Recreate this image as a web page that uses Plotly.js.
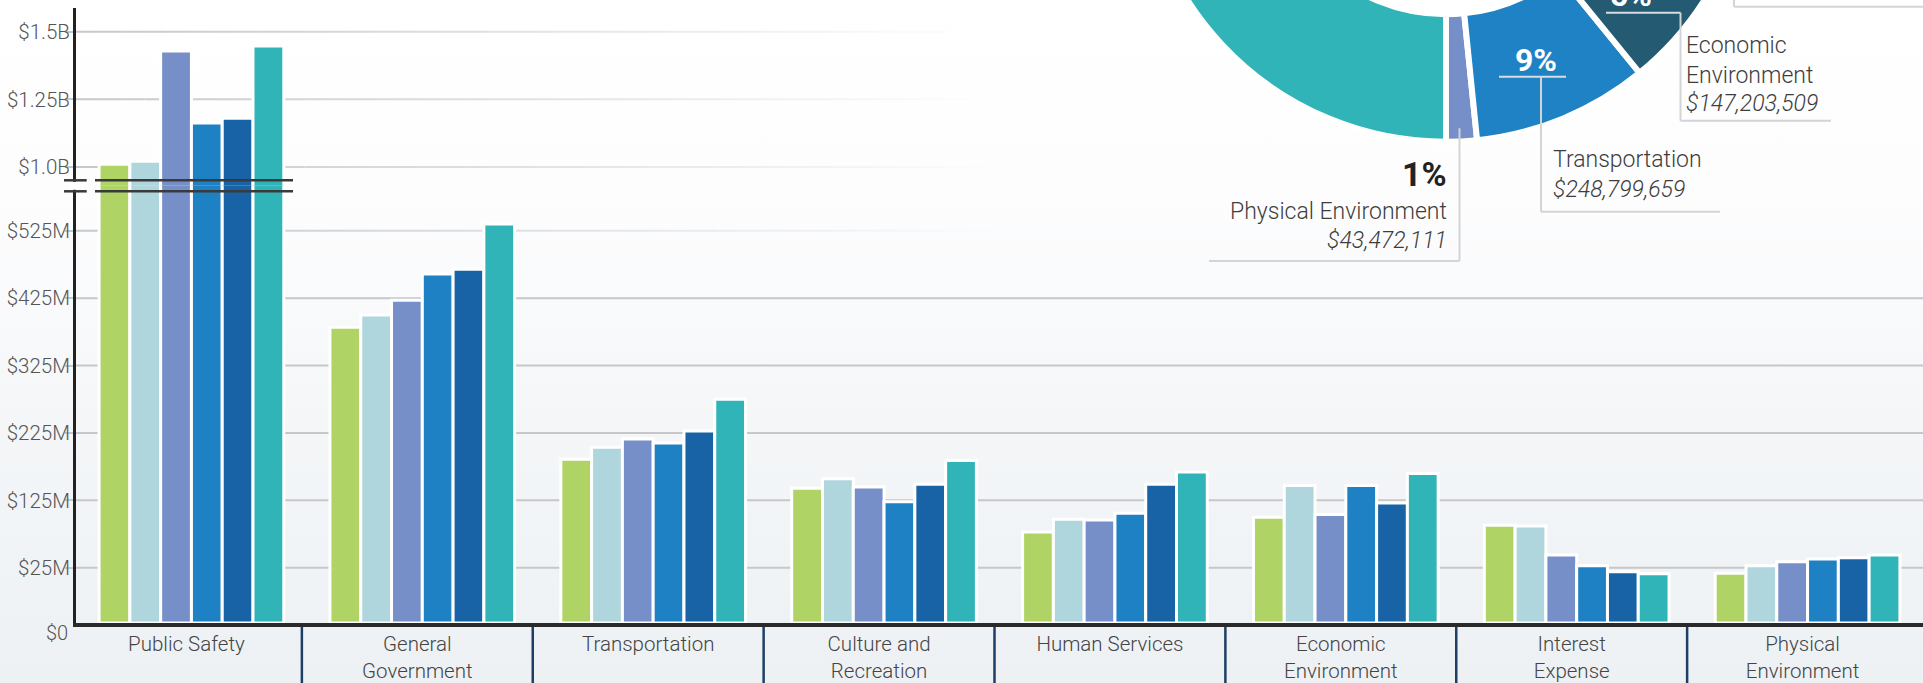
<!DOCTYPE html>
<html>
<head>
<meta charset="utf-8">
<script src="https://cdn.plot.ly/plotly-3.0.1.min.js"></script>
<style>
html,body{margin:0;padding:0;width:1923px;height:683px;overflow:hidden;}
body{background:linear-gradient(to bottom,#ffffff 0px,#fdfdfe 200px,#f4f6f8 430px,#edf1f4 683px);}
#chart{position:absolute;left:0;top:-600px;width:1923px;height:1283px;}
</style>
</head>
<body>
<div id="chart"></div>
<script>
// ---------------- DATA ----------------
const categories = ['Public Safety','General Government','Transportation','Culture and Recreation','Human Services','Economic Environment','Interest Expense','Physical Environment'];
const categoryLabels = ['Public Safety','General<br>Government','Transportation','Culture and<br>Recreation','Human Services','Economic<br>Environment','Interest<br>Expense','Physical<br>Environment'];
const seriesNames = ['FY 2014','FY 2015','FY 2016','FY 2017','FY 2018','FY 2019'];
const seriesColors = ['#afd364','#aed6dc','#778fc8','#1e81c4','#1763a5','#31b4b7'];
// values in millions of dollars
const fy2014 = [1010, 382, 186, 143,  78, 100, 88, 17];
const fy2015 = [1021, 400, 204, 157,  97, 147, 87, 28];
const fy2016 = [1429, 422, 216, 145,  96, 104, 44, 34];
const fy2017 = [1163, 461, 210, 123, 106, 147, 28, 38];
const fy2018 = [1180, 468, 228, 149, 149, 121, 19, 40];
const fy2019 = [1447, 535, 275, 184, 167, 165, 16, 44];
const seriesValues = [fy2014, fy2015, fy2016, fy2017, fy2018, fy2019];

const lowerTicks = [25, 125, 225, 325, 425, 525];
const lowerTickText = ['$25M','$125M','$225M','$325M','$425M','$525M'];
const upperTicks = [1000, 1250, 1500];
const upperTickText = ['$1.0B','$1.25B','$1.5B'];

const pieLabels = ['Physical Environment','Transportation','Economic Environment','Interest Expense','Human Services','Culture and Recreation','General Government','Public Safety'];
const pieValues = [43472111, 248799659, 147203509, 16000000, 167000000, 184000000, 480000000, 1400000000];
const pieColors = ['#778fc8','#1e82c5','#255a73','#aed6dc','#1763a5','#afd364','#5a74b8','#31b4b7'];

// ---------------- GEOMETRY ----------------
const W = 1923, HIDDEN = 600, H = 1283, ML = 76, MB = 60;
const PW = W - ML, PH = H - MB;
const fx = v => (v - ML) / PW;
const fy = v => (PH - (v + HIDDEN)) / PH;
const LOW_MIN = -57, LOW_MAX = 592, UP_MIN = 931, UP_MAX = 1586.5;
const BREAK_Y = 185.7;

const fontFam = 'Roboto, "Liberation Sans", sans-serif';

// pie: first slice starts right at 6 o'clock going counter-clockwise
const pieTotal = pieValues.reduce((a, b) => a + b, 0);
const pieRotation = 180 - 360 * pieValues[0] / pieTotal;

// ---------------- TRACES ----------------
const traces = [];
seriesValues.forEach((vals, i) => {
  traces.push({
    type: 'bar', name: seriesNames[i], x: categories,
    y: vals.map(v => v - LOW_MIN), base: LOW_MIN,
    customdata: vals, hovertemplate: '%{x}: $%{customdata}M<extra>' + seriesNames[i] + '</extra>',
    xaxis: 'x', yaxis: 'y',
    marker: {color: seriesColors[i], line: {color: '#ffffff', width: 3}}
  });
});
seriesValues.forEach((vals, i) => {
  traces.push({
    type: 'bar', name: seriesNames[i], x: categories, y: vals,
    xaxis: 'x', yaxis: 'y2', showlegend: false, hoverinfo: 'skip',
    marker: {color: seriesColors[i], line: {color: '#ffffff', width: 3}}
  });
});
traces.push({
  type: 'pie', labels: pieLabels, values: pieValues, sort: false,
  direction: 'counterclockwise', rotation: pieRotation, hole: 0.584,
  textinfo: 'none', showlegend: false,
  marker: {colors: pieColors, line: {color: '#ffffff', width: 6}},
  domain: {x: [fx(1139.5), fx(1752.5)], y: [fy(141.8), fy(-471.2)]}
});

// ---------------- SHAPES ----------------
const shapes = [];
const gridCol = '#c6c7cb';
lowerTicks.slice(0, 5).forEach(t => {
  shapes.push({type:'line', xref:'paper', yref:'y', x0:0, x1:1, y0:t, y1:t, layer:'below', line:{color:gridCol, width:2}});
});
const fadeLines = [['y', 525]].concat(upperTicks.map(t => ['y2', t]));
const N = 40, FX0 = 76, FX1 = 990;
fadeLines.forEach(([ax, t]) => {
  for (let k = 0; k < N; k++) {
    const a = FX0 + (FX1 - FX0) * k / N, b = FX0 + (FX1 - FX0) * (k + 1) / N;
    const alpha = 1 - ((a + b) / 2 - FX0) / (FX1 - FX0);
    shapes.push({type:'line', xref:'paper', yref:ax, x0:fx(a), x1:fx(b), y0:t, y1:t, layer:'below',
      line:{color:'rgba(198,199,203,' + alpha.toFixed(3) + ')', width:2}});
  }
});
// category separators
for (let i = 1; i < categories.length; i++) {
  const xp = i / categories.length - 5 / PW;
  shapes.push({type:'line', xref:'paper', yref:'paper', x0:xp, x1:xp, y0:fy(627), y1:fy(690), line:{color:'#1d3f66', width:2.5}});
}
// axis break
shapes.push({type:'rect', xref:'paper', yref:'paper', x0:fx(70), x1:fx(83), y0:fy(189.8), y1:fy(181.8), fillcolor:'#ffffff', line:{width:0}, layer:'above'});
[180.3, 191.3].forEach(yv => {
  shapes.push({type:'line', xref:'paper', yref:'paper', x0:fx(64), x1:fx(86.7), y0:fy(yv), y1:fy(yv), line:{color:'#3a3a3a', width:2.5}, layer:'above'});
  shapes.push({type:'line', xref:'paper', yref:'paper', x0:fx(95), x1:fx(293), y0:fy(yv), y1:fy(yv), line:{color:'#3a3a3a', width:2.5}, layer:'above'});
});
// pie label connectors
const conn = (pts, col) => {
  for (let k = 0; k < pts.length - 1; k++) {
    shapes.push({type:'line', xref:'paper', yref:'paper', x0:fx(pts[k][0]), y0:fy(pts[k][1]), x1:fx(pts[k+1][0]), y1:fy(pts[k+1][1]), line:{color:col || '#d3d4d6', width:2}, layer:'above'});
  }
};
conn([[1499, 76.7], [1566, 76.7]], '#d9dde2');
conn([[1541, 76.7], [1541, 211.7], [1720, 211.7]]);
conn([[1606, 12.7], [1680.5, 12.7]], '#d9dde2');
conn([[1680.5, 12.7], [1680.5, 120.7], [1831, 120.7]]);
conn([[1459.5, 128.3], [1459.5, 261], [1209, 261]]);
conn([[1734, -5], [1734, 6.7], [1925, 6.7]]);

// ---------------- ANNOTATIONS ----------------
const txtFont = (size, opts) => Object.assign({family: fontFam, size: size, color: '#3d3d3d', weight: 300}, opts || {});
const ann = (text, x, y, xanchor, font) => ({text, x: fx(x), y: fy(y), xref:'paper', yref:'paper', xanchor, yanchor:'middle', showarrow:false, font});
const annotations = [
  ann('$0', 70, 633, 'right', txtFont(20, {color:'#555'})),
  ann('9%', 1536, 60, 'center', txtFont(32, {color:'#ffffff', weight:700})),
  ann('5%', 1631, -4.5, 'center', txtFont(32, {color:'#ffffff', weight:700})),
  ann('1%', 1449, 174, 'right', txtFont(34, {color:'#222222', weight:700})),
  ann('Physical Environment', 1449, 211, 'right', txtFont(23)),
  ann('$43,472,111', 1449, 240, 'right', txtFont(23, {style:'italic'})),
  ann('Transportation', 1551, 159.3, 'left', txtFont(23)),
  ann('$248,799,659', 1551, 189.3, 'left', txtFont(23, {style:'italic'})),
  ann('Economic', 1684, 45, 'left', txtFont(23)),
  ann('Environment', 1684, 75, 'left', txtFont(23)),
  ann('$147,203,509', 1684, 104, 'left', txtFont(23, {style:'italic'}))
];

// ---------------- LAYOUT ----------------
const yCommon = {
  showgrid:false, zeroline:false, showline:true, linecolor:'#222222', linewidth:3,
  ticks:'outside', ticklen:8, tickwidth:2, tickcolor:gridCol, ticklabelstandoff:-9,
  tickfont:{family:fontFam, size:20.5, color:'#555555', weight:300}, fixedrange:true
};
const layout = {
  width: W, height: H,
  margin: {l: ML, r: 0, t: 0, b: MB, pad: 0},
  paper_bgcolor: 'rgba(0,0,0,0)', plot_bgcolor: 'rgba(0,0,0,0)',
  showlegend: false, barmode: 'group', bargap: 0.2, bargroupgap: 0,
  xaxis: {
    type:'category', range:[-0.5, categories.length - 0.5], anchor:'y',
    tickvals: categories, ticktext: categoryLabels, ticks:'', showgrid:false, zeroline:false,
    showline:true, linecolor:'#2a2a2a', linewidth:3.5, ticklabelshift:-5, ticklabelstandoff:0,
    tickfont:{family:fontFam, size:20.5, color:'#444444', weight:300}, fixedrange:true
  },
  yaxis: Object.assign({}, yCommon, {domain:[0, fy(BREAK_Y)], range:[LOW_MIN, LOW_MAX], tickvals:lowerTicks, ticktext:lowerTickText, anchor:'x'}),
  yaxis2: Object.assign({}, yCommon, {domain:[fy(BREAK_Y), fy(8.3)], range:[UP_MIN, UP_MAX], tickvals:upperTicks, ticktext:upperTickText, anchor:'x'}),
  shapes: shapes,
  annotations: annotations
};

Plotly.newPlot('chart', traces, layout, {displayModeBar:false});
</script>
</body>
</html>
